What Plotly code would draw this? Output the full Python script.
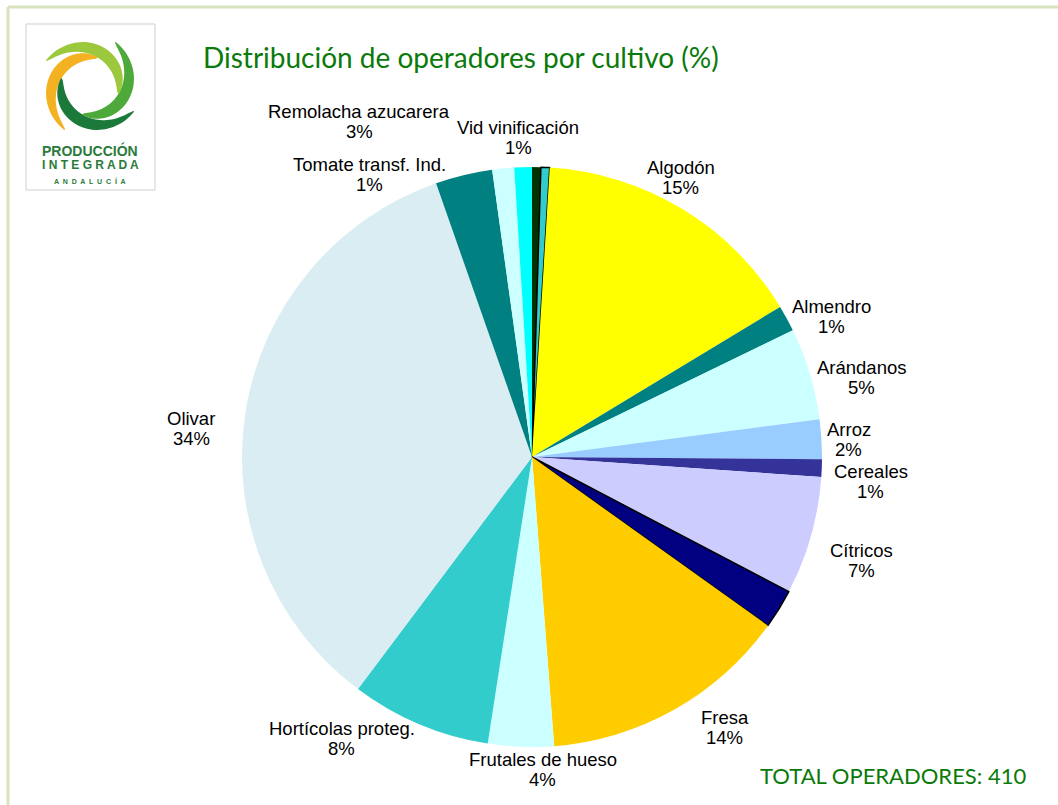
import numpy as np
import plotly.graph_objects as go

# ---------------- data ----------------
labels = ["Otro cultivo A", "Otro cultivo B", "Algodón", "Almendro", "Arándanos", "Arroz",
          "Cereales", "Cítricos", "Otro cultivo C", "Fresa", "Frutales de hueso",
          "Hortícolas proteg.", "Olivar", "Remolacha azucarera", "Tomate transf. Ind.",
          "Vid vinificación"]
operadores = [2, 2, 63, 6, 21, 9, 4, 27, 9, 57, 15, 32, 141, 13, 5, 4]
hidden_labels = ["Otro cultivo A", "Otro cultivo B", "Otro cultivo C"]
colors = ["#003300", "#33CCCC", "#FFFF00", "#008080", "#CCFFFF", "#99CCFF",
          "#333399", "#CCCCFF", "#000080", "#FFCC00", "#CCFFFF",
          "#33CCCC", "#DAEDF3", "#008080", "#CCFFFF", "#00FFFF"]
bordered = ["Otro cultivo B", "Otro cultivo C"]
title_text = "Distribución de operadores por cultivo (%)"
total_text = "TOTAL OPERADORES: " + str(sum(operadores))

# ---------------- layout constants ----------------
W, H = 1058, 805
CX, CY, R = 532, 457, 290          # pie centre / radius in page pixels
LABEL_SIZE = 18.5
LINE_GAP = 20
GAP = 8
CHAR_W = 9.35
# label placement tweaks (px) on top of the automatic outside placement (best-fit look)
label_nudge = {
    "Algodón": (-23, 5), "Almendro": (0, 22), "Arándanos": (0, 19), "Arroz": (-5, 2),
    "Cereales": (3, 12), "Cítricos": (3, 11), "Fresa": (32, -14), "Frutales de hueso": (23, -8),
    "Hortícolas proteg.": (-55, -40), "Olivar": (-16, 22),
    "Tomate transf. Ind.": (-130, 43), "Remolacha azucarera": (-93, -7), "Vid vinificación": (-4, 1),
}


def px(x):
    return x / W


def py(y):
    return 1 - y / H


line_w = [1.5 if l in bordered else 0 for l in labels]

fig = go.Figure(go.Pie(
    labels=labels, values=operadores, sort=False, direction="clockwise", rotation=0,
    marker=dict(colors=colors, line=dict(color="#000000", width=line_w)),
    textinfo="none", showlegend=False, hoverinfo="label+value+percent",
    domain=dict(x=[px(CX - R), px(CX + R)], y=[py(CY + R), py(CY - R)]),
))

annotations = []
total = sum(operadores)
cum = 0.0
for lab, v in zip(labels, operadores):
    a0 = cum / total * 360
    cum += v
    a1 = cum / total * 360
    if lab in hidden_labels:
        continue
    mid = np.deg2rad((a0 + a1) / 2)
    s, c = np.sin(mid), np.cos(mid)
    hw = len(lab) * CHAR_W / 2
    hh = LINE_GAP
    d = R + GAP + hw * abs(s) + hh * abs(c)
    lx, ly = CX + d * s, CY - d * c
    dx, dy = label_nudge.get(lab, (0, 0))
    lx, ly = lx + dx, ly + dy
    pct = f"{round(100 * v / total):d}%"
    for txt, yy in ((lab, ly - LINE_GAP / 2), (pct, ly + LINE_GAP / 2)):
        annotations.append(dict(text=txt, x=px(lx), y=py(yy), xref="paper", yref="paper",
                                xanchor="center", yanchor="middle", showarrow=False,
                                font=dict(family="Liberation Sans, Arial", size=LABEL_SIZE,
                                          color="#000000")))

shapes = []
# outer frame
shapes.append(dict(type="line", xref="paper", yref="paper", x0=px(8), x1=1.02, y0=py(7), y1=py(7),
                   line=dict(color="#D7E4BD", width=3)))
shapes.append(dict(type="line", xref="paper", yref="paper", x0=px(8), x1=px(8), y0=py(7), y1=-0.02,
                   line=dict(color="#D7E4BD", width=3)))
# logo box
shapes.append(dict(type="rect", xref="paper", yref="paper", x0=px(26), x1=px(155), y0=py(190), y1=py(24),
                   line=dict(color="#CFCFCF", width=1), fillcolor="#FFFFFF"))
# logo swirl arms (spiral crescents)
lcx, lcy = 90, 86
arm_start = [285, 195, 105, 375]
arm_cols = ["#F4B223", "#1B7A3A", "#4DAA3A", "#9BC83C"]
for th_s, col in zip(arm_start, arm_cols):
    t = np.linspace(0, 1, 50)
    th = np.deg2rad(th_s - 165 * t)
    ro = 30 + 21 * t
    wdt = 1 + 11 * np.sin(np.pi * t) ** 0.7
    outer = [(lcx + r * np.cos(a), lcy + r * np.sin(a)) for r, a in zip(ro, th)]
    inner = [(lcx + (r - w) * np.cos(a), lcy + (r - w) * np.sin(a)) for r, a, w in zip(ro, th, wdt)]
    poly = outer + inner[::-1]
    path = "M " + " L ".join(f"{px(x):.5f},{py(y):.5f}" for x, y in poly) + " Z"
    shapes.append(dict(type="path", xref="paper", yref="paper", path=path,
                       fillcolor=col, line=dict(width=0)))

annotations += [
    dict(text=title_text, x=px(201), y=py(57), xref="paper", yref="paper", xanchor="left",
         yanchor="middle", showarrow=False,
         font=dict(family="Lato, Open Sans", size=28, color="#0A7A0A")),
    dict(text=total_text, x=px(1028), y=py(775), xref="paper", yref="paper", xanchor="right",
         yanchor="middle", showarrow=False,
         font=dict(family="Lato, Open Sans", size=22, color="#0A7A0A")),
    dict(text="<b>PRODUCCIÓN</b>", x=px(90), y=py(150), xref="paper", yref="paper",
         xanchor="center", yanchor="middle", showarrow=False,
         font=dict(family="Liberation Sans, Arial", size=14, color="#2A7A3A")),
    dict(text="<b>I N T E G R A D A</b>", x=px(90), y=py(165), xref="paper", yref="paper",
         xanchor="center", yanchor="middle", showarrow=False,
         font=dict(family="Liberation Sans, Arial", size=12, color="#2A7A3A")),
    dict(text="<b>A  N  D  A  L  U  C  Í  A</b>", x=px(90), y=py(181), xref="paper", yref="paper",
         xanchor="center", yanchor="middle", showarrow=False,
         font=dict(family="Liberation Sans, Arial", size=7, color="#2A7A3A")),
]

fig.update_layout(
    width=W, height=H, margin=dict(l=0, r=0, t=0, b=0),
    paper_bgcolor="#FFFFFF", plot_bgcolor="#FFFFFF",
    shapes=shapes, annotations=annotations,
)

fig.write_html("out.html", config={"displayModeBar": False},
               post_script="document.body.style.margin='0px';")
